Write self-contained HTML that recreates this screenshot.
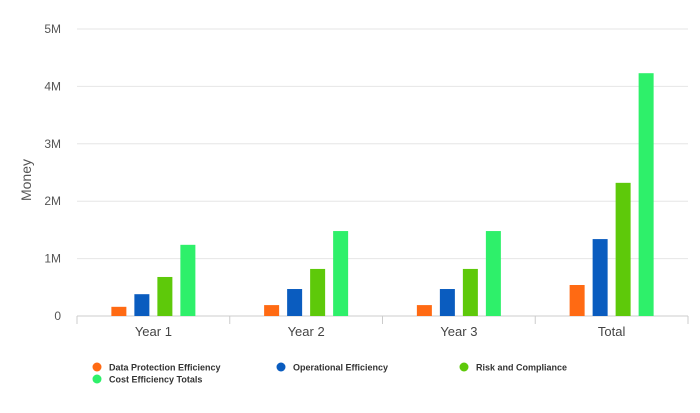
<!DOCTYPE html>
<html><head><meta charset="utf-8"><style>
body{margin:0;background:#fff;font-family:"Liberation Sans",sans-serif;}
svg text{font-family:"Liberation Sans",sans-serif;}
</style></head><body>
<svg id="chart" width="700" height="408" viewBox="0 0 700 408" xmlns="http://www.w3.org/2000/svg"></svg>
<script>
const categories = ["Year 1","Year 2","Year 3","Total"];
const seriesNames = ["Data Protection Efficiency","Operational Efficiency","Risk and Compliance","Cost Efficiency Totals"];
const dataProtection = [0.16,0.19,0.19,0.54];
const operational = [0.38,0.47,0.47,1.34];
const riskCompliance = [0.68,0.82,0.82,2.32];
const costTotals = [1.24,1.48,1.48,4.23];
const yTicks = [0,1,2,3,4,5];
const yTickLabels = ["0","1M","2M","3M","4M","5M"];

const colors = ["#ff6a13","#0a5cbf","#5ec90a","#2ef06a"];
const series = [dataProtection, operational, riskCompliance, costTotals];
const svg = document.getElementById('chart');
const NS = "http://www.w3.org/2000/svg";
const x0 = 77, x1 = 688, yBase = 316, yTop = 29, yMax = 5;
const band = (x1 - x0) / categories.length;
const yScale = v => yBase - (v / yMax) * (yBase - yTop);
const xCenter = i => x0 + band * (i + 0.5);
function mk(tag, attrs, text){
  const e = document.createElementNS(NS, tag);
  for (const k in attrs) e.setAttribute(k, attrs[k]);
  if (text !== undefined) e.textContent = text;
  svg.appendChild(e);
  return e;
}
yTicks.forEach((t, i) => {
  const y = yScale(t);
  const g = mk('line', {x1: x0, x2: x1, y1: y, y2: y, stroke: i === 0 ? '#ccc' : '#e6e6e6', 'stroke-width': 1});
  
  
  const l = mk('text', {x: 61, y: y + 4, 'text-anchor': 'end', 'font-size': 12, fill: '#555'}, yTickLabels[i]);
  
  
});
const yt = mk('text', {x: 31, y: 180, 'text-anchor': 'middle', 'font-size': 14, fill: '#555', transform: 'rotate(-90 31 180)'}, 'Money');


const bw = 15, step = 23;
categories.forEach((c, i) => {
  const cx = xCenter(i);
  series.forEach((s, j) => {
    const bx = cx + (j - 1.5) * step - bw / 2;
    const y = yScale(s[i]);
    const r = mk('rect', {x: bx, y: y, width: bw, height: yBase - y, fill: colors[j]});
    
    
  });
  const tk = mk('line', {x1: x0 + band * (i + 1), x2: x0 + band * (i + 1), y1: yBase, y2: yBase + 8, stroke: '#ccc'});
  
  
  const t = mk('text', {x: cx, y: 336, 'text-anchor': 'middle', 'font-size': 13, fill: '#444'}, c);
  
  
});
const tk0 = mk('line', {x1: x0, x2: x0, y1: yBase, y2: yBase + 8, stroke: '#ccc'});


const legPos = [[97, 368], [281, 368], [464, 368], [97, 380]];
seriesNames.forEach((n, j) => {
  const [lx, ly] = legPos[j];
  const d = mk('circle', {cx: lx, cy: ly - 1, r: 4.5, fill: colors[j]});
  
  
  const t = mk('text', {x: lx + 12, y: ly + 2.5, 'font-size': 9, 'font-weight': 'bold', fill: '#333'}, n);
  
  
});
</script>
</body></html>
